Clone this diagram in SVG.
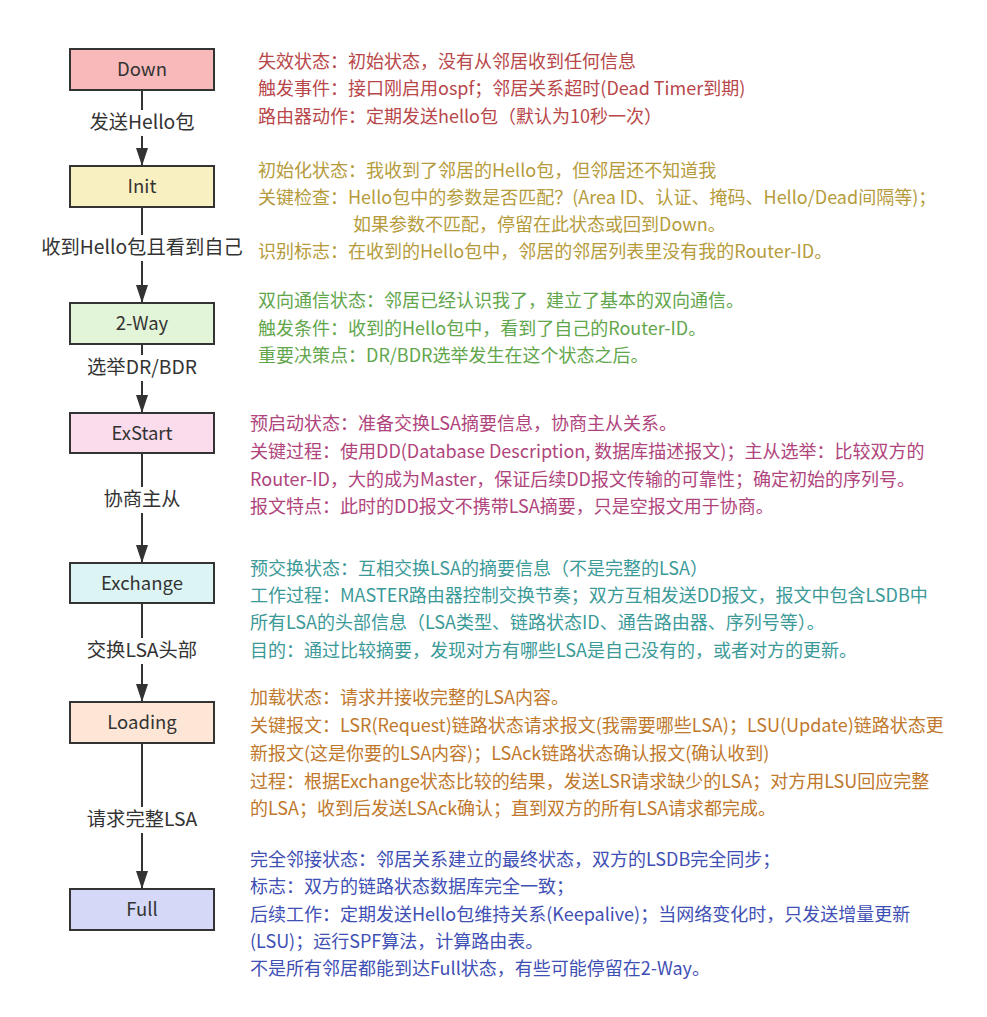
<svg xmlns="http://www.w3.org/2000/svg" width="987" height="1017" viewBox="0 0 987 1017">
<style>
text{font-family:"Noto Sans CJK SC","Noto Sans",sans-serif;}
.box{stroke:#333;stroke-width:2;}
.bl{font-size:18.5px;fill:#333;text-anchor:middle;}
.el{font-size:19.3px;fill:#333;text-anchor:middle;}
.lbg{fill:#fff;}
.edge{stroke:#333;stroke-width:2;fill:none;marker-end:url(#ah);}
.d{font-size:18px;}
.c1{fill:#b8474a;}
.c2{fill:#b59b3b;}
.c3{fill:#62a64c;}
.c4{fill:#b0447c;}
.c5{fill:#3b9a98;}
.c6{fill:#c0782c;}
.c7{fill:#3f50b5;}
</style>
<defs>
<marker id="ah" markerUnits="userSpaceOnUse" markerWidth="18" markerHeight="12" refX="18" refY="6" orient="auto">
<path d="M0,0 L18,6 L0,12 z" fill="#333"/>
</marker>
</defs>
<rect width="987" height="1017" fill="#fff"/>
<g id="connectors">
<path class="edge" d="M142,90 V166"/>
<path class="edge" d="M142,207 V303"/>
<path class="edge" d="M142,344 V413"/>
<path class="edge" d="M142,453 V563"/>
<path class="edge" d="M142,603 V702"/>
<path class="edge" d="M142,743 V889"/>
</g>
<g id="edge-labels">
<rect class="lbg" x="86" y="110" width="112" height="26"/>
<text class="el" x="142" y="129">发送Hello包</text>
<rect class="lbg" x="36" y="235" width="212" height="26"/>
<text class="el" x="142" y="254">收到Hello包且看到自己</text>
<rect class="lbg" x="82" y="355" width="120" height="26"/>
<text class="el" x="142" y="374">选举DR/BDR</text>
<rect class="lbg" x="100" y="487" width="84" height="26"/>
<text class="el" x="142" y="506">协商主从</text>
<rect class="lbg" x="82" y="638" width="120" height="26"/>
<text class="el" x="142" y="657">交换LSA头部</text>
<rect class="lbg" x="82" y="807" width="120" height="26"/>
<text class="el" x="142" y="826">请求完整LSA</text>
</g>
<g id="down">
<rect class="box" x="70" y="49" width="144" height="41" fill="#f7b9b9"/>
<text class="bl" x="142" y="76">Down</text>
<text class="d c1" x="258"><tspan x="258" y="68">失效状态：初始状态，没有从邻居收到任何信息</tspan><tspan x="258" y="95">触发事件：接口刚启用ospf；邻居关系超时(Dead Timer到期)</tspan><tspan x="258" y="122.5">路由器动作：定期发送hello包（默认为10秒一次）</tspan></text>
</g>
<g id="init">
<rect class="box" x="70" y="166" width="144" height="41" fill="#f8f0c0"/>
<text class="bl" x="142" y="193">Init</text>
<text class="d c2"><tspan x="258" y="177">初始化状态：我收到了邻居的Hello包，但邻居还不知道我</tspan><tspan x="258" y="204">关键检查：Hello包中的参数是否匹配？(Area ID、认证、掩码、Hello/Dead间隔等)；</tspan><tspan x="353" y="231">如果参数不匹配，停留在此状态或回到Down。</tspan><tspan x="258" y="258">识别标志：在收到的Hello包中，邻居的邻居列表里没有我的Router-ID。</tspan></text>
</g>
<g id="two-way">
<rect class="box" x="70" y="303" width="144" height="41" fill="#e3f5d8"/>
<text class="bl" x="142" y="330">2-Way</text>
<text class="d c3"><tspan x="258" y="307">双向通信状态：邻居已经认识我了，建立了基本的双向通信。</tspan><tspan x="258" y="335">触发条件：收到的Hello包中，看到了自己的Router-ID。</tspan><tspan x="258" y="362">重要决策点：DR/BDR选举发生在这个状态之后。</tspan></text>
</g>
<g id="exstart">
<rect class="box" x="70" y="413" width="144" height="40" fill="#fadcec"/>
<text class="bl" x="142" y="439.5">ExStart</text>
<text class="d c4"><tspan x="250" y="430">预启动状态：准备交换LSA摘要信息，协商主从关系。</tspan><tspan x="250" y="458">关键过程：使用DD(Database Description, 数据库描述报文)；主从选举：比较双方的</tspan><tspan x="250" y="486">Router-ID，大的成为Master，保证后续DD报文传输的可靠性；确定初始的序列号。</tspan><tspan x="250" y="513">报文特点：此时的DD报文不携带LSA摘要，只是空报文用于协商。</tspan></text>
</g>
<g id="exchange">
<rect class="box" x="70" y="563" width="144" height="40" fill="#dcf5f4"/>
<text class="bl" x="142" y="589.5">Exchange</text>
<text class="d c5"><tspan x="250" y="575">预交换状态：互相交换LSA的摘要信息（不是完整的LSA）</tspan><tspan x="250" y="602">工作过程：MASTER路由器控制交换节奏；双方互相发送DD报文，报文中包含LSDB中</tspan><tspan x="250" y="629">所有LSA的头部信息（LSA类型、链路状态ID、通告路由器、序列号等）。</tspan><tspan x="250" y="657">目的：通过比较摘要，发现对方有哪些LSA是自己没有的，或者对方的更新。</tspan></text>
</g>
<g id="loading">
<rect class="box" x="70" y="702" width="144" height="41" fill="#fde6d6"/>
<text class="bl" x="142" y="729">Loading</text>
<text class="d c6"><tspan x="250" y="704">加载状态：请求并接收完整的LSA内容。</tspan><tspan x="250" y="732">关键报文：LSR(Request)链路状态请求报文(我需要哪些LSA)；LSU(Update)链路状态更</tspan><tspan x="250" y="760">新报文(这是你要的LSA内容)；LSAck链路状态确认报文(确认收到)</tspan><tspan x="250" y="788">过程：根据Exchange状态比较的结果，发送LSR请求缺少的LSA；对方用LSU回应完整</tspan><tspan x="250" y="815">的LSA；收到后发送LSAck确认；直到双方的所有LSA请求都完成。</tspan></text>
</g>
<g id="full">
<rect class="box" x="70" y="889" width="144" height="41" fill="#d5d9f7"/>
<text class="bl" x="142" y="916">Full</text>
<text class="d c7"><tspan x="250" y="866">完全邻接状态：邻居关系建立的最终状态，双方的LSDB完全同步；</tspan><tspan x="250" y="893">标志：双方的链路状态数据库完全一致；</tspan><tspan x="250" y="921">后续工作：定期发送Hello包维持关系(Keepalive)；当网络变化时，只发送增量更新</tspan><tspan x="250" y="948">(LSU)；运行SPF算法，计算路由表。</tspan><tspan x="250" y="975">不是所有邻居都能到达Full状态，有些可能停留在2-Way。</tspan></text>
</g>
</svg>
